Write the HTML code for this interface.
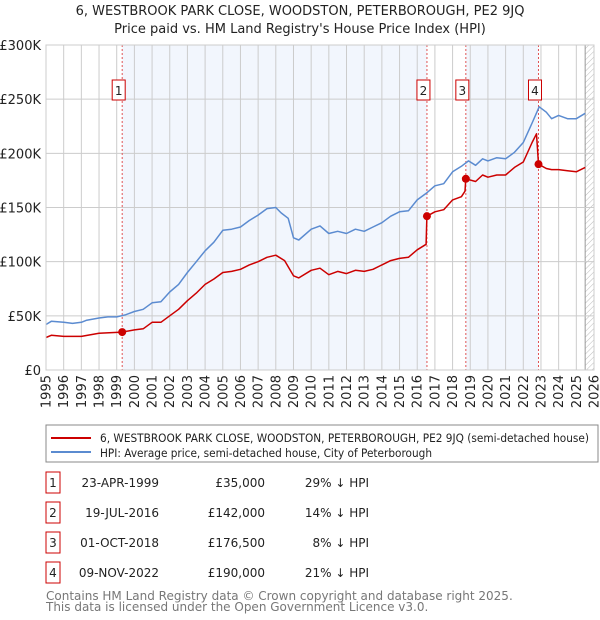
<!DOCTYPE html>
<html><head><meta charset="utf-8"><style>
body{margin:0;background:#fff;font-family:"Liberation Sans","DejaVu Sans",sans-serif;}
svg{display:block}
</style></head><body>
<svg width="600" height="620" viewBox="0 0 600 620" xmlns="http://www.w3.org/2000/svg" font-family="DejaVu Sans, Liberation Sans, sans-serif">
<defs><pattern id="hatch" width="4" height="4" patternUnits="userSpaceOnUse" patternTransform="rotate(45)"><line x1="0" y1="0" x2="0" y2="4" stroke="#bbb" stroke-width="1"/></pattern></defs>
<text x="300" y="15" text-anchor="middle" font-size="13" fill="#222">6, WESTBROOK PARK CLOSE, WOODSTON, PETERBOROUGH, PE2 9JQ</text>
<text x="300" y="33" text-anchor="middle" font-size="13" fill="#222">Price paid vs. HM Land Registry's House Price Index (HPI)</text>
<g id="plot"></g>
<g>
<rect x="46" y="425" width="552" height="37" fill="#fff" stroke="#888"/>
<line x1="51" y1="438" x2="91" y2="438" stroke="#cc0000" stroke-width="2"/>
<text x="100" y="442" font-size="11.5" fill="#222" textLength="489" lengthAdjust="spacingAndGlyphs">6, WESTBROOK PARK CLOSE, WOODSTON, PETERBOROUGH, PE2 9JQ (semi-detached house)</text>
<line x1="51" y1="452" x2="91" y2="452" stroke="#5b8bd0" stroke-width="2"/>
<text x="100" y="457" font-size="11.5" fill="#222" textLength="332" lengthAdjust="spacingAndGlyphs">HPI: Average price, semi-detached house, City of Peterborough</text>
</g>
<g id="table"></g>
<text x="46" y="600" font-size="12" fill="#777">Contains HM Land Registry data © Crown copyright and database right 2025.</text>
<text x="46" y="611" font-size="12" fill="#777">This data is licensed under the Open Government Licence v3.0.</text>
</svg>
<script>
const yTicks=[0,50000,100000,150000,200000,250000,300000];
const yTickLabels=["£0","£50K","£100K","£150K","£200K","£250K","£300K"];
const years=[1995,1996,1997,1998,1999,2000,2001,2002,2003,2004,2005,2006,2007,2008,2009,2010,2011,2012,2013,2014,2015,2016,2017,2018,2019,2020,2021,2022,2023,2024,2025,2026];
const hpiT=[1995,1995.3,1996,1996.5,1997,1997.3,1998,1998.5,1999,1999.5,2000,2000.5,2001,2001.5,2002,2002.5,2003,2003.5,2004,2004.5,2005,2005.5,2006,2006.5,2007,2007.5,2008,2008.3,2008.7,2009,2009.3,2010,2010.5,2011,2011.5,2012,2012.5,2013,2013.5,2014,2014.5,2015,2015.5,2016,2016.5,2017,2017.5,2018,2018.5,2018.9,2019.3,2019.7,2020,2020.5,2021,2021.5,2022,2022.5,2022.9,2023.3,2023.6,2024,2024.5,2025,2025.5];
const hpiV=[42000,45000,44000,43000,44000,46000,48000,49000,49000,51000,54000,56000,62000,63000,72000,79000,90000,100000,110000,118000,129000,130000,132000,138000,143000,149000,150000,145000,140000,122000,120000,130000,133000,126000,128000,126000,130000,128000,132000,136000,142000,146000,147000,157000,163000,170000,172000,183000,188000,193000,189000,195000,193000,196000,195000,201000,210000,228000,243000,238000,232000,235000,232000,232000,237000];
const ppT=[1995,1995.3,1996,1997,1998,1999.3,2000,2000.5,2001,2001.5,2002,2002.5,2003,2003.5,2004,2004.5,2005,2005.5,2006,2006.5,2007,2007.5,2008,2008.5,2009,2009.3,2010,2010.5,2011,2011.5,2012,2012.5,2013,2013.5,2014,2014.5,2015,2015.5,2016,2016.5,2016.55,2017,2017.5,2018,2018.5,2018.7,2018.75,2019.3,2019.7,2020,2020.5,2021,2021.5,2022,2022.5,2022.75,2022.86,2023.3,2023.6,2024,2024.5,2025,2025.5];
const ppV=[30000,32000,31000,31000,34000,35000,37000,38000,44000,44000,50000,56000,64000,71000,79000,84000,90000,91000,93000,97000,100000,104000,106000,101000,87000,85000,92000,94000,88000,91000,89000,92000,91000,93000,97000,101000,103000,104000,111000,116000,142000,146000,148000,157000,160000,165000,176500,174000,180000,178000,180000,180000,187000,192000,210000,218000,190000,186000,185000,185000,184000,183000,187000];
const saleT=[1999.31,2016.55,2018.75,2022.86];
const saleV=[35000,142000,176500,190000];
const saleLabels=["1","2","3","4"];
const saleDates=["23-APR-1999","19-JUL-2016","01-OCT-2018","09-NOV-2022"];
const salePrices=["£35,000","£142,000","£176,500","£190,000"];
const saleHpi=["29% ↓ HPI","14% ↓ HPI","8% ↓ HPI","21% ↓ HPI"];

const NS="http://www.w3.org/2000/svg";
const L=46,R=594,T=45,B=370;
const xs=t=>L+(t-1995)/(2026-1995)*(R-L);
const ys=v=>B-v/300000*(B-T);
const plot=document.getElementById('plot');
function mk(tag,attrs,parent){const e=document.createElementNS(NS,tag);for(const k in attrs)e.setAttribute(k,attrs[k]);(parent||plot).appendChild(e);return e;}
let s1=mk('rect',{x:xs(saleT[0]),y:T,width:xs(saleT[1])-xs(saleT[0]),height:B-T,fill:'#f2f6fd'});


let s2=mk('rect',{x:xs(saleT[2]),y:T,width:xs(saleT[3])-xs(saleT[2]),height:B-T,fill:'#f2f6fd'});


let hx=xs(2025.5);
let h=mk('rect',{x:hx,y:T,width:R-hx,height:B-T,fill:'url(#hatch)'});


mk('line',{x1:hx,y1:T,x2:hx,y2:B,stroke:'#999','stroke-width':1});
years.forEach(y=>{
 let g=mk('line',{x1:xs(y),y1:T,x2:xs(y),y2:B,stroke:'#ccc','stroke-width':1});
 
 
 let t=mk('text',{x:0,y:0,transform:`translate(${xs(y)+4.5},${B+5}) rotate(-90)`,'text-anchor':'end','font-size':13,fill:'#222'});
 t.textContent=y;
 
 
});
yTicks.forEach((v,i)=>{
 let g=mk('line',{x1:L,y1:ys(v),x2:R,y2:ys(v),stroke:'#ccc','stroke-width':1});
 
 
 let t=mk('text',{x:L-5,y:ys(v)+5,'text-anchor':'end','font-size':13,fill:'#222'});
 t.textContent=yTickLabels[i];
 
 
});
saleT.forEach((t,i)=>{
 let l=mk('line',{x1:xs(t),y1:T,x2:xs(t),y2:B,stroke:'#e05555','stroke-width':1,'stroke-dasharray':'2,2'});
 
 
 let r=mk('rect',{x:xs(t)-10,y:80,width:13,height:20,fill:'#fff',stroke:'#cc0000','stroke-width':1});
 
 
 let tx=mk('text',{x:xs(t)-3.5,y:95,'text-anchor':'middle','font-size':12,fill:'#222'});
 tx.textContent=saleLabels[i];
 
 
});
function line(T_,V,color,name){
 let d=T_.map((t,i)=>(i?'L':'M')+xs(t).toFixed(1)+','+ys(V[i]).toFixed(1)).join('');
 let p=mk('path',{d:d,fill:'none',stroke:color,'stroke-width':1.5,'stroke-linejoin':'round'});
 
 
}
line(hpiT,hpiV,'#5b8bd0','hpi-line');
line(ppT,ppV,'#cc0000','price-paid-line');
saleT.forEach((t,i)=>{
 let c=mk('circle',{cx:xs(t),cy:ys(saleV[i]),r:4,fill:'#cc0000'});
 
 
});
mk('rect',{x:L,y:T,width:R-L,height:B-T,fill:'none',stroke:'#ccc'});
const tb=document.getElementById('table');
saleT.forEach((t,i)=>{
 const cy=483+i*30;
 let b=mk('rect',{x:46,y:cy-11,width:14,height:21,fill:'#fff',stroke:'#cc0000'},tb);
 
 
 const cols=[[53,'middle',saleLabels[i],'row-number'],[159,'end',saleDates[i],'row-date'],[265,'end',salePrices[i],'row-price'],[369,'end',saleHpi[i],'row-hpi-diff']];
 cols.forEach(c=>{
  let e=mk('text',{x:c[0],y:cy+4,'text-anchor':c[1],'font-size':12,fill:'#222'},tb);
  e.textContent=c[2];
  
  
 });
});
</script>
</body></html>
